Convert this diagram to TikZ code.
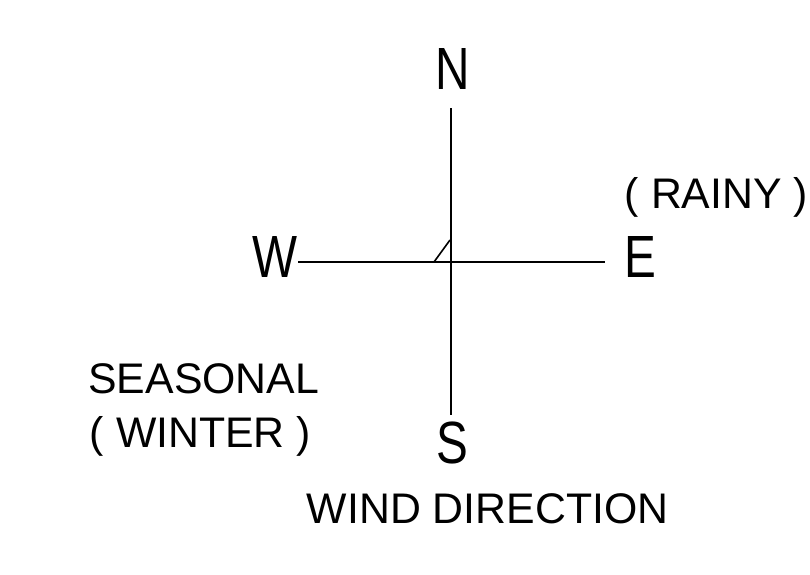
\documentclass[tikz,border=0pt]{standalone}
\usepackage{graphicx}
\usepackage{fontspec}
\setmainfont{Liberation Sans}
\usepackage{tikz}
\newcommand{\narrowcap}[1]{\scalebox{0.8}[1]{#1}}
\tikzset{
  compass/.style={font=\fontsize{29.8}{30}\selectfont,inner sep=0pt,anchor=center},
  windlabel/.style={font=\fontsize{21.4}{25}\selectfont,inner sep=0pt,anchor=base west},
  axisline/.style={line width=1pt,draw=black},
  tickline/.style={line width=0.8pt,draw=black}
}

\begin{document}
\begin{tikzpicture}[x=0.5pt,y=-0.5pt]
\useasboundingbox (0,0) rectangle (810,574);
% compass letters
\node[compass] (n) at (453,69) {\narrowcap{N}};
\node[compass] (w) at (275,257) {\narrowcap{W}};
\node[compass] (e) at (640,257) {\narrowcap{E}};
\node[compass] (s) at (452,443) {\narrowcap{S}};
% cross ends
\coordinate (c) at (451,262);
\coordinate (ntip) at (451,108);
\coordinate (stip) at (451,415);
\coordinate (wtip) at (298,262);
\coordinate (etip) at (605,262);
\draw[axisline] (ntip)--(stip);
\draw[axisline] (wtip)--(etip);
\draw[tickline] (434,262)--(450,240);
% labels
\node[windlabel] (rainy) at (624.5,208) {( RAINY )};
\node[windlabel] (season) at (88,393) {SEASONAL};
\node[windlabel] (winter) at (89.5,447) {( WINTER )};
\node[windlabel] (title) at (306.5,523) {WIND DIRECTION};
\end{tikzpicture}
\end{document}
